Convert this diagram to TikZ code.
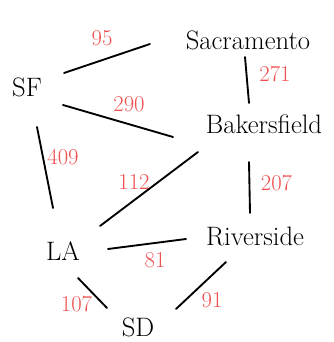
\documentclass[tikz,border=0pt]{standalone}
\usetikzlibrary{positioning}
\definecolor{distred}{RGB}{238,80,80}
\begin{document}
\begin{tikzpicture}[
    x=0.75pt, y=-0.75pt,
    % Define styles for the cities and roads
    city/.style={
        font=\fontsize{20}{24}\selectfont,
        inner sep=2pt
      },
    road/.style={
        draw,
        line width=1.4pt,
        line cap=round
      },
    dist/.style={
        text=distred,
        font=\fontsize{17}{20}\selectfont,
        inner sep=0pt
      }
  ]
  \useasboundingbox (0,0) rectangle (334,342);

  % Place the cities
  \node[city] (sf) at (27,87) {SF};
  \node[city] (sac) at (248,40) {Sacramento};
  \node[city] (bak) at (264,124) {Bakersfield};
  \node[city] (la) at (63,251) {LA};
  \node[city] (riv) at (255,236) {Riverside};
  \node[city] (sd) at (138,327) {SD};

  % Draw the roads with their distances
  \draw[road] ([shift={(37,-14)}]sf.center) -- ([shift={(-98,4)}]sac.center)
    node[dist, midway, shift={(-5,-20)}] {95};
  \draw[road] ([shift={(36,18)}]sf.center) -- ([shift={(-91,13)}]bak.center)
    node[dist, midway, shift={(11,-17)}] {290};
  \draw[road] ([shift={(10,40)}]sf.center) -- ([shift={(-10,-43)}]la.center)
    node[dist, midway, shift={(18,-10)}] {409};
  \draw[road] ([shift={(-3,17)}]sac.center) -- ([shift={(-15,-21)}]bak.center)
    node[dist, midway, shift={(28,-6)}] {271};
  \draw[road] ([shift={(-66,28)}]bak.center) -- ([shift={(37,-25)}]la.center)
    node[dist, midway, shift={(-15,-7)}] {112};
  \draw[road] ([shift={(-15,38)}]bak.center) -- ([shift={(-5,-23)}]riv.center)
    node[dist, midway, shift={(27,-4)}] {207};
  \draw[road] ([shift={(45,-2)}]la.center) -- ([shift={(-69,3)}]riv.center)
    node[dist, midway, shift={(8,16)}] {81};
  \draw[road] ([shift={(15,27)}]la.center) -- ([shift={(-31,-19)}]sd.center)
    node[dist, midway, shift={(-16,11)}] {107};
  \draw[road] ([shift={(-29,26)}]riv.center) -- ([shift={(38,-18)}]sd.center)
    node[dist, midway, shift={(11,15)}] {91};

\end{tikzpicture}
\end{document}
